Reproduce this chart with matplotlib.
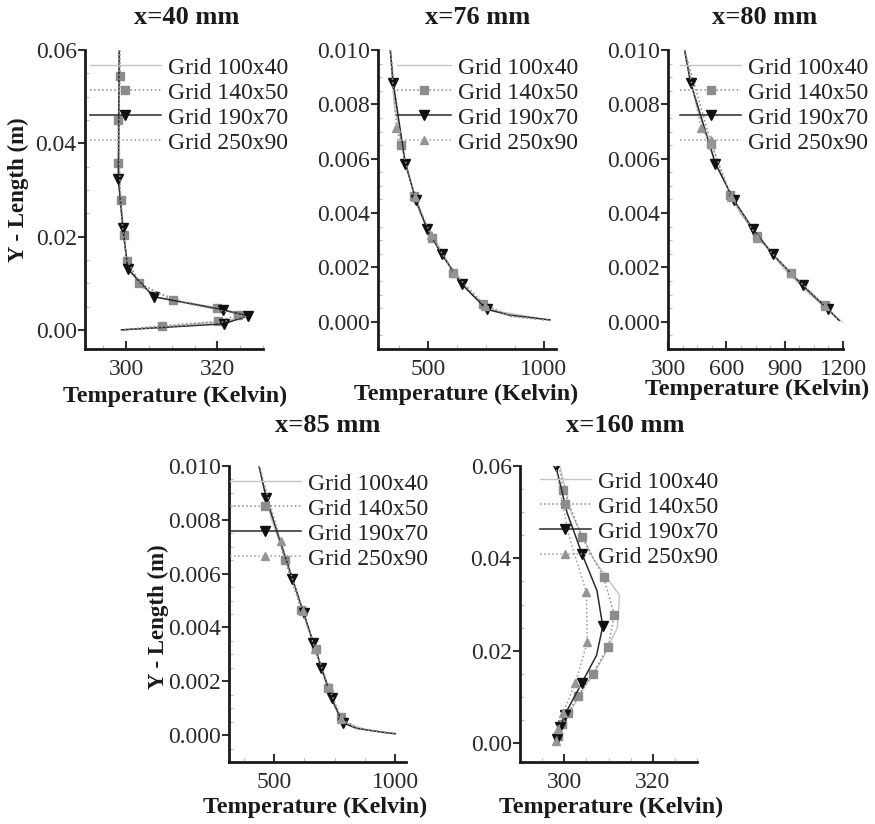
import matplotlib
matplotlib.use("Agg")
import matplotlib.pyplot as plt
from matplotlib.ticker import AutoMinorLocator, FormatStrFormatter

plt.rcParams['font.family'] = ['Liberation Serif', 'DejaVu Serif']

W, H = 875, 824

grids = ["Grid 100x40", "Grid 140x50", "Grid 190x70", "Grid 250x90"]

# ---- x = 40 mm ----
y40_g100 = [0.06, 0.045, 0.03, 0.02, 0.014, 0.010, 0.007, 0.005, 0.0035, 0.003, 0.002, 0.001, 0.0]
t40_g100 = [298.6, 298.5, 298.6, 299.5, 300.3, 302.8, 306.5, 318.5, 324.8, 326.0, 322.5, 312.0, 299.5]
y40_g140 = [0.06, 0.0544, 0.045, 0.0357, 0.0279, 0.0204, 0.0148, 0.010, 0.0064, 0.0046, 0.0032, 0.0018, 0.0009, 0.0]
t40_g140 = [298.6, 298.7, 298.3, 298.3, 298.9, 299.5, 300.2, 302.9, 310.3, 319.9, 324.5, 320.2, 307.9, 299.2]
y40_g190 = [0.06, 0.0324, 0.0218, 0.013, 0.0071, 0.0043, 0.0030, 0.0013, 0.0]
t40_g190 = [298.5, 298.3, 299.3, 300.4, 306.1, 321.2, 326.7, 321.4, 299.0]
y40_g250 = [0.06, 0.04, 0.025, 0.015, 0.009, 0.0055, 0.0035, 0.0028, 0.0015, 0.0]
t40_g250 = [298.6, 298.4, 298.9, 300.1, 303.8, 314.0, 324.0, 326.2, 320.0, 299.2]

# ---- x = 76 mm ----
y76_g100 = [0.010, 0.008, 0.006, 0.004, 0.002, 0.001, 0.0004, 0.0001]
t76_g100 = [338, 355, 398, 465, 600, 690, 790, 1000]
y76_g140 = [0.010, 0.00652, 0.00462, 0.00309, 0.00181, 0.00065, 0.0002, 0.00005]
t76_g140 = [338, 385, 441, 517, 610, 739, 860, 1030]
y76_g190 = [0.010, 0.0088, 0.00582, 0.0045, 0.00342, 0.00248, 0.00138, 0.00046, 0.00025, 0.00007]
t76_g190 = [338, 350, 403, 448, 496, 560, 646, 754, 850, 1026]
y76_g250 = [0.010, 0.00713, 0.0046, 0.0032, 0.0018, 0.0006, 0.0002, 0.00005]
t76_g250 = [338, 364, 445, 512, 612, 745, 860, 1030]

# ---- x = 80 mm ----
y80_g100 = [0.010, 0.008, 0.006, 0.004, 0.002, 0.001, 0.0]
t80_g100 = [385, 445, 535, 670, 890, 1030, 1195]
y80_g140 = [0.010, 0.00655, 0.00465, 0.00315, 0.00178, 0.00061, 0.00005]
t80_g140 = [385, 523, 620, 757, 931, 1106, 1180]
y80_g190 = [0.010, 0.0088, 0.00582, 0.0045, 0.00342, 0.00248, 0.00134, 0.00046, 0.00005]
t80_g190 = [385, 416, 544, 637, 736, 839, 992, 1123, 1180]
y80_g250 = [0.010, 0.00713, 0.00655, 0.0046, 0.0031, 0.0018, 0.0006, 0.00005]
t80_g250 = [385, 470, 523, 625, 760, 930, 1106, 1180]

# ---- x = 85 mm ----
y85_g100 = [0.010, 0.008, 0.006, 0.004, 0.002, 0.001, 0.0005, 0.0002, 0.00005]
t85_g100 = [438, 490, 568, 640, 712, 752, 785, 880, 1000]
y85_g140 = [0.010, 0.0065, 0.00465, 0.00319, 0.00176, 0.00067, 0.00025, 0.0001, 0.00005]
t85_g140 = [438, 544, 613, 673, 724, 776, 841, 952, 1000]
y85_g190 = [0.010, 0.0088, 0.00581, 0.00452, 0.00344, 0.00251, 0.00137, 0.00046, 0.00025, 0.0001, 0.00005]
t85_g190 = [438, 468, 576, 623, 662, 696, 738, 783, 841, 952, 1000]
y85_g250 = [0.010, 0.0072, 0.0046, 0.0032, 0.0018, 0.0006, 0.00025, 0.0001, 0.00005]
t85_g250 = [438, 528, 618, 670, 725, 778, 841, 952, 1000]

# ---- x = 160 mm ----
y160_g100 = [0.06, 0.05, 0.04, 0.032, 0.025, 0.018, 0.012, 0.006, 0.002]
t160_g100 = [299.0, 301.5, 306.5, 312.5, 312.0, 308.5, 304.5, 300.8, 298.6]
y160_g140 = [0.06, 0.0549, 0.0447, 0.0359, 0.0278, 0.0207, 0.0149, 0.0101, 0.0066, 0.0041, 0.0016]
t160_g140 = [298.8, 299.8, 304.0, 308.9, 311.3, 309.9, 306.4, 303.1, 300.9, 299.4, 298.5]
y160_g190 = [0.06, 0.05, 0.041, 0.033, 0.0253, 0.019, 0.0129, 0.0061, 0.0034, 0.0009]
t160_g190 = [298.1, 300.6, 304.0, 307.4, 308.7, 307.3, 303.9, 300.1, 299.0, 298.3]
y160_g250 = [0.06, 0.045, 0.0327, 0.0218, 0.0130, 0.0066, 0.0030, 0.0005]
t160_g250 = [298.0, 301.0, 305.0, 305.2, 302.5, 299.8, 298.7, 298.2]

# which points carry a symbol (the rest are only on the line)
mk40 = [None, slice(1, -1), slice(1, -1), None]
mk76 = [None, slice(1, 6), slice(1, 8), slice(1, 6)]
mk80 = [None, slice(1, 6), slice(1, 8), slice(1, 7)]
mk85 = [None, slice(1, 6), slice(1, 8), slice(1, 6)]
mk160 = [None, slice(1, None), [0, 2, 4, 6, 7, 8, 9], slice(2, None)]

styles = [
    dict(color='#c4c4c4', lw=1.0, ls='-', marker=None),
    dict(color='#8a8a8a', lw=1.1, ls=':', marker='s', ms=6, mfc='#8c8c8c', mec='#8c8c8c'),
    dict(color='#2a2a2a', lw=1.1, ls='-', marker='v', ms=6.5, mfc='#111111', mec='#111111'),
    dict(color='#9c9c9c', lw=1.1, ls=':', marker='^', ms=6, mfc='#959595', mec='#959595'),
]

panels = [
    dict(title="x=40 mm", rect=(85, 50, 263, 349), xlim=(291, 330), ylim=(-0.0041, 0.06),
         xt=[300, 320], yt=[0.0, 0.02, 0.04, 0.06], fmt='%.2f',
         data=[(t40_g100, y40_g100), (t40_g140, y40_g140), (t40_g190, y40_g190), (t40_g250, y40_g250)],
         mk=mk40, tc=(187, 18), xl=(175, 396), yl=(18, 190), leg=(90, 57), hl=3.0),
    dict(title="x=76 mm", rect=(378, 50, 556, 349), xlim=(285, 1052), ylim=(-0.001, 0.010),
         xt=[500, 1000], yt=[0.0, 0.002, 0.004, 0.006, 0.008, 0.010], fmt='%.3f',
         data=[(t76_g100, y76_g100), (t76_g140, y76_g140), (t76_g190, y76_g190), (t76_g250, y76_g250)],
         mk=mk76, tc=(478, 18), xl=(466, 394), yl=None, leg=(397, 57), hl=2.3),
    dict(title="x=80 mm", rect=(668, 50, 843, 349), xlim=(300, 1200), ylim=(-0.001, 0.010),
         xt=[300, 600, 900, 1200], yt=[0.0, 0.002, 0.004, 0.006, 0.008, 0.010], fmt='%.3f',
         data=[(t80_g100, y80_g100), (t80_g140, y80_g140), (t80_g190, y80_g190), (t80_g250, y80_g250)],
         mk=mk80, tc=(765, 18), xl=(757, 389), yl=None, leg=(680, 57), hl=2.6),
    dict(title="x=85 mm", rect=(229, 466, 406, 762), xlim=(314, 1045), ylim=(-0.001, 0.010),
         xt=[500, 1000], yt=[0.0, 0.002, 0.004, 0.006, 0.008, 0.010], fmt='%.3f',
         data=[(t85_g100, y85_g100), (t85_g140, y85_g140), (t85_g190, y85_g190), (t85_g250, y85_g250)],
         mk=mk85, tc=(328, 425), xl=(315, 807), yl=(158, 617), leg=(230, 473), hl=3.0),
    dict(title="x=160 mm", rect=(520, 466, 697, 762), xlim=(290, 330), ylim=(-0.0041, 0.06),
         xt=[300, 320], yt=[0.0, 0.02, 0.04, 0.06], fmt='%.2f',
         data=[(t160_g100, y160_g100), (t160_g140, y160_g140), (t160_g190, y160_g190), (t160_g250, y160_g250)],
         mk=mk160, tc=(625, 425), xl=(611, 807), yl=None, leg=(540, 471), hl=2.15),
]

fig = plt.figure(figsize=(W / 100, H / 100), dpi=100)

for p in panels:
    l, t, r, b = p['rect']
    ax = fig.add_axes([l / W, 1 - b / H, (r - l) / W, (b - t) / H])
    for i, (tt, yy) in enumerate(p['data']):
        st = dict(styles[i])
        if p['mk'][i] is None:
            st['marker'] = None
        else:
            st['markevery'] = p['mk'][i]
        ax.plot(tt, yy, label=grids[i], **st)

    ax.set_xlim(*p['xlim'])
    ax.set_ylim(*p['ylim'])
    ax.set_xticks(p['xt'])
    ax.set_yticks(p['yt'])
    ax.yaxis.set_major_formatter(FormatStrFormatter(p['fmt']))
    ax.xaxis.set_minor_locator(AutoMinorLocator(4))
    ax.yaxis.set_minor_locator(AutoMinorLocator(4))
    for s in ['top', 'right']:
        ax.spines[s].set_visible(False)
    for s in ['left', 'bottom']:
        ax.spines[s].set_linewidth(2.0)
        ax.spines[s].set_color('#1a1a1a')
    ax.tick_params(axis='y', which='major', direction='out', length=5, width=1.5,
                   pad=1, labelsize=17, labelcolor='#2a2a2a', color='#333333')
    ax.tick_params(axis='x', which='major', direction='in', length=6, width=1.5,
                   pad=7, labelsize=17, labelcolor='#2a2a2a', color='#333333')
    ax.tick_params(which='minor', direction='in', length=3, width=0.8, color='#bbbbbb')

    cx, cy = p['tc']
    ax.set_title(p['title'], x=(cx - l) / (r - l), y=(b - cy) / (b - t), pad=0, va='center',
                 fontsize=19, fontweight='bold', color='#1a1a1a')
    ax.set_xlabel("Temperature (Kelvin)", fontsize=17.3, fontweight='bold', color='#1a1a1a')
    ax.xaxis.set_label_coords((p['xl'][0] - l) / (r - l), (b - p['xl'][1]) / (b - t))
    ax.xaxis.label.set_va('center')
    if p['yl'] is not None:
        ax.set_ylabel("Y - Length (m)", fontsize=16.5, fontweight='bold', color='#1a1a1a')
        ax.yaxis.set_label_coords((p['yl'][0] - l) / (r - l), (b - p['yl'][1]) / (b - t))
        ax.yaxis.label.set_va('center')

    lx, ly = p['leg']
    leg = ax.legend(loc='upper left', bbox_to_anchor=(lx / W, 1 - ly / H),
                    bbox_transform=fig.transFigure, frameon=False, fontsize=17,
                    handlelength=p['hl'], handletextpad=0.3, labelspacing=0.15,
                    borderpad=0, borderaxespad=0, markerscale=1.0)
    for txt in leg.get_texts():
        txt.set_color('#222222')

fig.savefig("out.png", dpi=100)
